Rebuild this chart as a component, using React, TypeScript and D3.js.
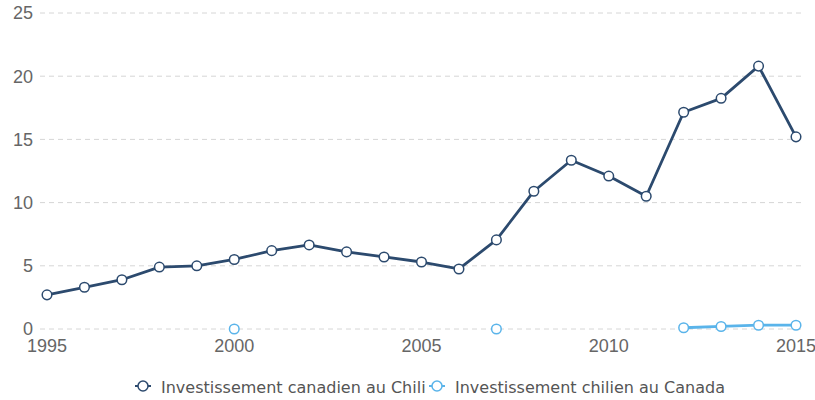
import * as d3 from 'd3';

const years = d3.range(1995, 2016);
const canadaInChile: (number | null)[] = [
  2.7, 3.3, 3.9, 4.9, 5.0, 5.5, 6.2, 6.65, 6.1, 5.7, 5.3, 4.75, 7.05, 10.9, 13.35, 12.1, 10.5, 17.15, 18.25, 20.8, 15.2,
];
const chileInCanada: (number | null)[] = [
  null, null, null, null, null, 0, null, null, null, null, null, null, 0, null, null, null, null, 0.1, 0.2, 0.3, 0.3,
];
const yTicks = [0, 5, 10, 15, 20, 25];
const xTicks = [1995, 2000, 2005, 2010, 2015];

const series = [
  { name: 'Investissement canadien au Chili', values: canadaInChile, color: '#2c4a6e' },
  { name: 'Investissement chilien au Canada', values: chileInCanada, color: '#5ab4ea' },
];

const W = 815;
const H = 400;

export default function App() {
  const x = d3.scaleLinear().domain([1995, 2015]).range([47, 796]);
  const y = d3.scaleLinear().domain([0, 25]).range([329, 13]);

  const line = d3
    .line<number | null>()
    .defined((d) => d !== null)
    .x((_, i) => x(years[i]))
    .y((d) => y(d as number));

  const legendPos = [
    { mx: 143, tx: 161 },
    { mx: 437, tx: 455 },
  ];

  return (
    <svg
      width={W}
      height={H}
      style={{ position: 'absolute', left: 0, top: 0 }}
      fontFamily="'Liberation Sans', Arial, sans-serif"
    >
      <rect width={W} height={H} fill="#fff" />
      {yTicks.map((t) => (
        <g key={t}>
          <line x1={40} x2={805} y1={y(t)} y2={y(t)} stroke="#d6d6d6" strokeDasharray="5,4" strokeWidth={1} />
          <text x={33} y={y(t)} dy="0.35em" textAnchor="end" fontSize={18} fill="#666">
            {t}
          </text>
        </g>
      ))}
      {xTicks.map((t) => (
        <text key={t} x={x(t)} y={352} textAnchor="middle" fontSize={18} fill="#666">
          {t}
        </text>
      ))}
      {series.map((s) => (
        <g key={s.name}>
          <path d={line(s.values) ?? ''} fill="none" stroke={s.color} strokeWidth={2.8} strokeLinejoin="round" />
          {s.values.map((v, i) =>
            v === null ? null : (
              <circle key={i} cx={x(years[i])} cy={y(v)} r={4.8} fill="#fff" stroke={s.color} strokeWidth={1.5} />
            )
          )}
        </g>
      ))}
      {series.map((s, i) => (
        <g key={s.name}>
          <line x1={legendPos[i].mx - 8} x2={legendPos[i].mx + 8} y1={386} y2={386} stroke={s.color} strokeWidth={2} />
          <circle cx={legendPos[i].mx} cy={386} r={5} fill="#fff" stroke={s.color} strokeWidth={1.5} />
          <text x={legendPos[i].tx} y={393} fontSize={16} fill="#555" fontFamily="'DejaVu Sans', Verdana, sans-serif">
            {s.name}
          </text>
        </g>
      ))}
    </svg>
  );
}
